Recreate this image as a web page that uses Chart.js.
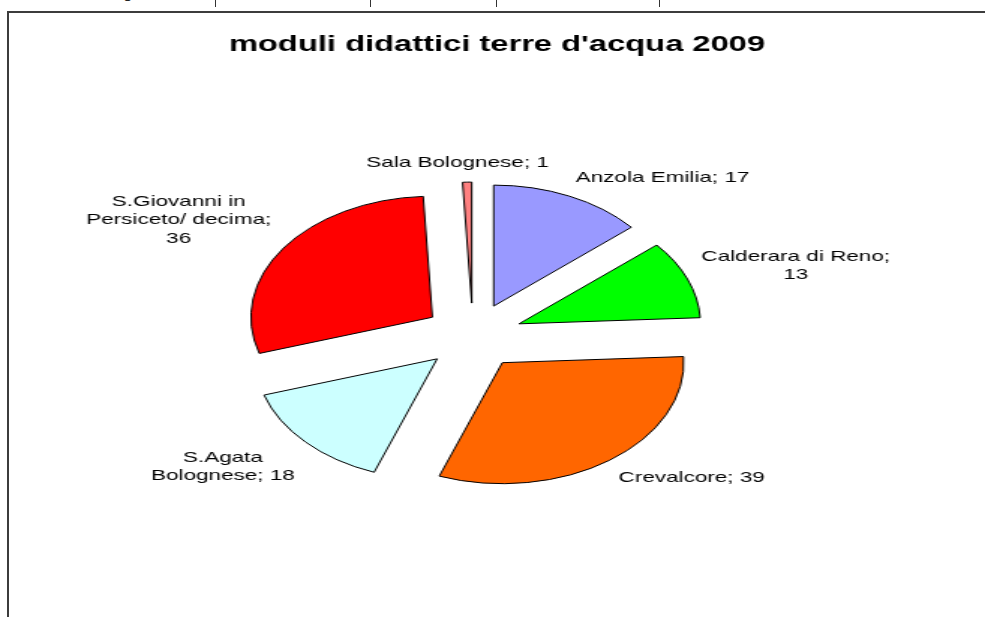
<!DOCTYPE html>
<html>
<head>
<meta charset="utf-8">
<script src="https://cdn.jsdelivr.net/npm/chart.js@4.4.1/dist/chart.umd.min.js"></script>
<style>
  html, body { margin: 0; padding: 0; background: #fff; overflow: hidden; }
  #frame {
    position: absolute; left: 7px; top: 11px; width: 1000px; height: 700px;
    border-left: 2px solid #3c3c3c; border-top: 2px solid #3c3c3c;
  }
  /* bottom edge of the page line cut off above the chart */
  #cut { position: absolute; left: 0; top: 0; width: 985px; height: 7px; overflow: hidden; }
  #cut .bar { position: absolute; top: 0; width: 1px; height: 7px; background: #333; }
  #cut .g { position: absolute; top: -17px; left: 123px; font: 17px 'Liberation Sans', Arial, sans-serif; color: #222; }
  /* the original picture is stretched sideways, so the whole chart is too */
  #stretch {
    position: absolute; left: 0; top: 0; width: 657px; height: 617px;
    transform: scaleX(1.4992); transform-origin: 0 0;
  }
</style>
</head>
<body>
<div id="frame"></div>
<div id="cut">
  <span class="g">g</span>
  <div class="bar" style="left:215px"></div>
  <div class="bar" style="left:370px"></div>
  <div class="bar" style="left:496px"></div>
  <div class="bar" style="left:659px"></div>
</div>
<div id="stretch"><canvas id="chart"></canvas></div>
<script>
const categories = [
  "Anzola Emilia",
  "Calderara di Reno",
  "Crevalcore",
  "S.Agata Bolognese",
  "S.Giovanni in Persiceto/ decima",
  "Sala Bolognese",
];
const moduli = [17, 13, 39, 18, 36, 1];
const sliceColors = ["#9999ff", "#00ff00", "#ff6600", "#ccffff", "#ff0000", "#ff8080"];

const EXPLODE = 33;      // distance every slice is pulled out
const LABEL_GAP = 10;
const LABEL_WIDTH = 130; // wrap width of the data labels
const LINE_HEIGHT = 18.5;
const FONT = "'Liberation Sans', Arial, sans-serif";

Chart.defaults.font.family = FONT;

const wrapText = (ctx, text, maxWidth) => {
  const lines = [];
  let line = "";
  text.split(" ").forEach((word) => {
    const test = line ? line + " " + word : word;
    if (line && ctx.measureText(test).width > maxWidth) {
      lines.push(line);
      line = word;
    } else {
      line = test;
    }
  });
  lines.push(line);
  return lines;
};

// pull each slice out along its middle angle
const explodePlugin = {
  id: "explode",
  afterDatasetUpdate(chart, args) {
    chart.getDatasetMeta(args.index).data.forEach((arc) => {
      const mid = (arc.startAngle + arc.endAngle) / 2;
      arc.x += Math.cos(mid) * EXPLODE;
      arc.y += Math.sin(mid) * EXPLODE;
    });
  },
};

// "name; value" labels outside the slices
const sliceLabelPlugin = {
  id: "sliceLabels",
  afterDatasetsDraw(chart) {
    const { ctx, chartArea } = chart;
    const cx = (chartArea.left + chartArea.right) / 2;
    const cy = (chartArea.top + chartArea.bottom) / 2;
    const clamp = (v) => Math.max(-1, Math.min(1, v));

    ctx.save();
    ctx.font = "15px " + FONT;
    ctx.fillStyle = "#000";
    ctx.textAlign = "center";
    ctx.textBaseline = "middle";
    chart.getDatasetMeta(0).data.forEach((arc, i) => {
      const lines = wrapText(ctx, `${categories[i]}; ${moduli[i]}`, LABEL_WIDTH);
      const w = Math.max(...lines.map((l) => ctx.measureText(l).width));
      const h = lines.length * LINE_HEIGHT;
      const mid = (arc.startAngle + arc.endAngle) / 2;
      const dist = arc.outerRadius + EXPLODE + LABEL_GAP;
      const bx = cx + Math.cos(mid) * dist + clamp(Math.cos(mid) * 4) * w / 2;
      const by = cy + Math.sin(mid) * dist + clamp(Math.sin(mid) * 1.4) * h / 2;
      lines.forEach((line, j) => {
        ctx.fillText(line, bx, by - h / 2 + LINE_HEIGHT * (j + 0.5));
      });
    });
    ctx.restore();
  },
};

new Chart(document.getElementById("chart"), {
  type: "pie",
  data: {
    labels: categories,
    datasets: [
      {
        data: moduli,
        backgroundColor: sliceColors,
        borderColor: "#000",
        borderWidth: 1,
        borderJoinStyle: "miter",
        hoverOffset: 0,
      },
    ],
  },
  options: {
    responsive: true,
    maintainAspectRatio: false,
    animation: false,
    radius: 121,
    layout: {
      padding: { left: 6, right: 0, top: 0, bottom: 11 },
    },
    plugins: {
      title: {
        display: true,
        text: "moduli didattici terre d'acqua 2009",
        color: "#000",
        font: { size: 21.8, weight: "bold" },
        padding: { top: 32, bottom: 8 },
      },
      // no entries; it only keeps a strip free on the right
      legend: {
        display: true,
        position: "right",
        labels: { filter: () => false, padding: 22 },
      },
      tooltip: { enabled: false },
    },
  },
  plugins: [explodePlugin, sliceLabelPlugin],
});
</script>
</body>
</html>
